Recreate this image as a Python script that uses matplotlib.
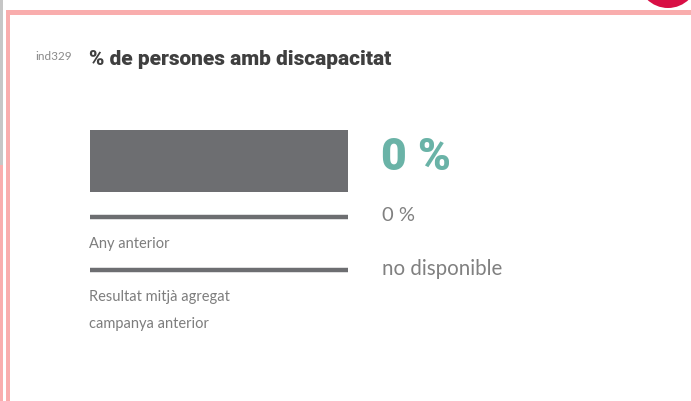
import matplotlib
matplotlib.use("Agg")
import matplotlib.pyplot as plt
from matplotlib.patches import Circle, Rectangle

# ---- data ----
indicator_code = "ind329"
title = "% de persones amb discapacitat"
current_value = 0          # %
previous_year_value = 0    # %
campaign_avg_value = None  # not available
scale_max = 100
row_labels = ["", "Any anterior", "Resultat mitjà agregat\ncampanya anterior"]
value_texts = ["0 %", "0 %", "no disponible"]

W, H = 691, 401
fig = plt.figure(figsize=(W / 100, H / 100), dpi=100)
plt.rcParams['font.family'] = ['Lato', 'DejaVu Sans']

# background canvas in pixel coords
bg = fig.add_axes([0, 0, 1, 1])
bg.set_xlim(0, W)
bg.set_ylim(H, 0)
bg.axis("off")

pink = "#f9adad"
bg.add_patch(Rectangle((0, 0), 3.5, 165, color="#c6c6c6", lw=0))
bg.add_patch(Rectangle((0, 165), 3.5, H - 165, color=pink, lw=0))
bg.add_patch(Rectangle((6, 10), 4.5, H - 10, color=pink, lw=0))
bg.add_patch(Rectangle((6, 10), W - 6, 4.5, color=pink, lw=0))
bg.add_patch(Circle((668, -22), 30, color="#d80f45", lw=0))

bg.text(35, 60, indicator_code, fontsize=8.5, color="#8a8a8a", va="baseline")
bg.text(89, 65, title, fontsize=15, fontweight="heavy", color="#3f3f3f",
        va="baseline", family=["Roboto", "DejaVu Sans"])

# bar / reference-line axes
x0, x1 = 90, 348
y0, y1 = 120, 330
ax = fig.add_axes([x0 / W, 1 - y1 / H, (x1 - x0) / W, (y1 - y0) / H])
ax.set_xlim(0, scale_max)
ax.set_ylim(y1, y0)
ax.axis("off")

gray = "#6d6e71"
# main bar track (full scale) and current value
ax.barh(161, scale_max, height=62, color=gray, left=0)
ax.barh(161, current_value, height=62, color="#6ab3a7", left=0)
# reference lines
ax.hlines([217, 270], 0, scale_max, color=gray, lw=3.2)

# labels under lines
lab_col = "#7d7d7d"
bg.text(89, 248, row_labels[1], fontsize=10.5, color=lab_col, va="baseline")
bg.text(89, 301, "Resultat mitjà agregat", fontsize=10.5, color=lab_col, va="baseline")
bg.text(89, 328, "campanya anterior", fontsize=10.5, color=lab_col, va="baseline")

# value texts
bg.text(381, 170, value_texts[0], fontsize=32, fontweight="heavy", color="#6ab3a7",
        va="baseline", family=["Roboto", "DejaVu Sans"])
bg.text(382, 221, value_texts[1], fontsize=14.5, color="#808080", va="baseline")
bg.text(382, 275, value_texts[2], fontsize=14.8, color="#808080", va="baseline")

fig.savefig("out.png", dpi=100)
